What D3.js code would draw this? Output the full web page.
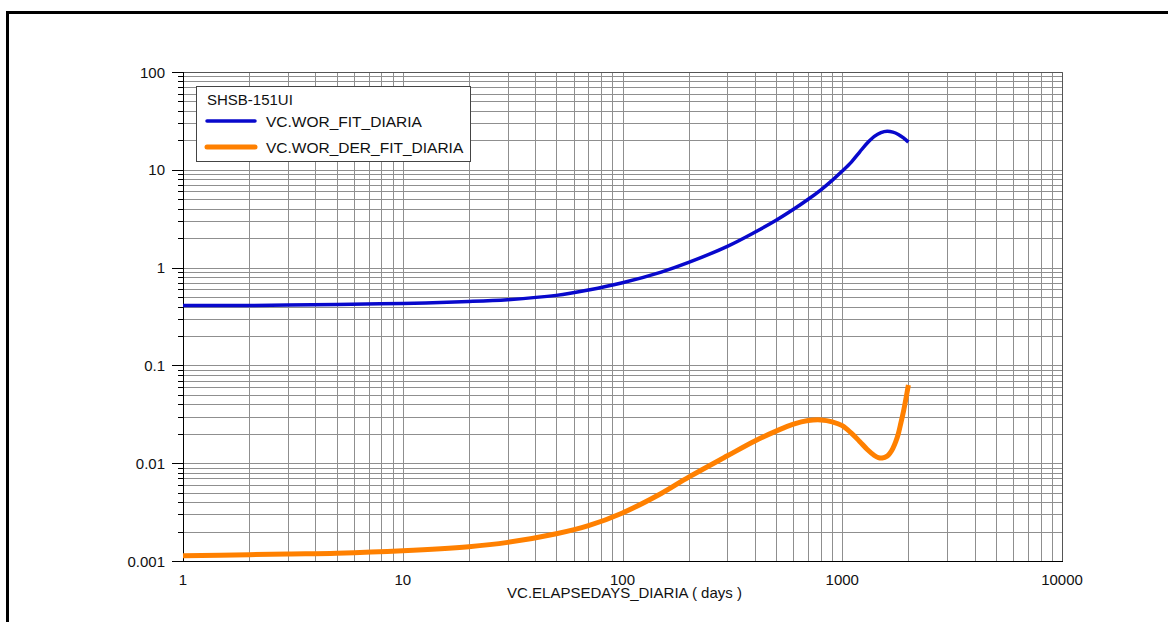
<html>
<head>
  <title>WOR fit</title>
  <script src='https://d3js.org/d3.v7.min.js'></script>
  <style>
    body { margin: 0; background: #fff; }
    text { font-family: 'Liberation Sans', Arial, sans-serif; fill: #111; }
  </style>
</head>
<body>
  <script>

    // series
    var worDays = [1, 2, 3, 5, 10, 20, 30, 50, 70, 100, 150, 200, 300, 400, 500, 600, 700, 800, 900, 1000, 1100, 1200, 1300, 1400, 1500, 1600, 1700, 1800, 1900, 2000];
    var worFit  = [0.41, 0.41, 0.415, 0.42, 0.43, 0.45, 0.47, 0.52, 0.59, 0.70, 0.90, 1.13, 1.65, 2.3, 3.05, 3.95, 5.0, 6.25, 7.8, 9.7, 12.0, 15.2, 18.8, 22.0, 24.0, 24.8, 24.3, 23.0, 21.2, 19.2];

    var derDays   = [1, 2, 3, 5, 10, 20, 30, 50, 70, 100, 150, 200, 300, 400, 500, 600, 700, 800, 900, 1000, 1100, 1200, 1300, 1400, 1460, 1520, 1600, 1650, 1700, 1750, 1800, 1850, 1900, 1950, 2000];
    var worDerFit = [0.00113, 0.00116, 0.00118, 0.0012, 0.00127, 0.0014, 0.00155, 0.0019, 0.0023, 0.0031, 0.0049, 0.0072, 0.0119, 0.0169, 0.0213, 0.0251, 0.0273, 0.0277, 0.0265, 0.0242, 0.0203, 0.0167, 0.0138, 0.0120, 0.0114, 0.0113, 0.0118, 0.0127, 0.0142, 0.0165, 0.020, 0.026, 0.034, 0.046, 0.063];

    var seriesNames = ['VC.WOR_FIT_DIARIA', 'VC.WOR_DER_FIT_DIARIA'];
    var seriesColors = ['#0808cc', '#ff8000'];
    var wellName = 'SHSB-151UI';

    var xTicks = [1, 10, 100, 1000, 10000];
    var yTicks = [0.001, 0.01, 0.1, 1, 10, 100];
    var xTitle = 'VC.ELAPSEDAYS_DIARIA ( days )';

    var width = 1168,
        height = 622;

    var pLeft = 183, pRight = 1062, pTop = 72, pBottom = 561;

    var svg = d3.select('body')
      .append('svg')
      .attr('width', width)
      .attr('height', height);

    // outer frame
    svg.append('rect')
      .attr('x', 7.5).attr('y', 12.5)
      .attr('width', 1200).attr('height', 700)
      .attr('fill', 'none')
      .attr('stroke', '#000')
      .attr('stroke-width', 3);

    var x = d3.scaleLog().domain([1, 10000]).range([pLeft, pRight]);
    var y = d3.scaleLog().domain([0.001, 100]).range([pBottom, pTop]);

    // every 1..9 step of each decade
    function minorSteps(lo, hi) {
      var out = [];
      for (var p = Math.round(Math.log10(lo)); p < Math.round(Math.log10(hi)); p++) {
        for (var k = 1; k < 10; k++) out.push(+(k * Math.pow(10, p)).toPrecision(6));
      }
      out.push(hi);
      return out;
    }
    var xGrid = minorSteps(1, 10000);
    var yGrid = minorSteps(0.001, 100);

    var grid = svg.append('g').attr('stroke', '#8f8f8f').attr('stroke-width', 1);

    grid.selectAll('line.v')
      .data(xGrid)
      .enter()
      .append('line')
      .attr('x1', (d) => Math.round(x(d)) + 0.5)
      .attr('x2', (d) => Math.round(x(d)) + 0.5)
      .attr('y1', pTop)
      .attr('y2', pBottom);

    grid.selectAll('line.h')
      .data(yGrid)
      .enter()
      .append('line')
      .attr('x1', pLeft)
      .attr('x2', pRight)
      .attr('y1', (d) => Math.round(y(d)) + 0.5)
      .attr('y2', (d) => Math.round(y(d)) + 0.5);

    // top and right edges
    svg.append('path')
      .attr('d', 'M' + pLeft + ',' + (pTop + 0.5) + 'H' + (pRight + 0.5) + 'V' + pBottom)
      .attr('fill', 'none')
      .attr('stroke', '#555');

    // y axis ticks, major longer
    var yAxis = svg.append('g').attr('stroke', '#000');
    yAxis.selectAll('line')
      .data(yGrid)
      .enter()
      .append('line')
      .attr('x1', (d) => yTicks.indexOf(d) >= 0 ? pLeft - 11 : pLeft - 5)
      .attr('x2', pLeft)
      .attr('y1', (d) => Math.round(y(d)) + 0.5)
      .attr('y2', (d) => Math.round(y(d)) + 0.5);

    svg.append('line')
      .attr('x1', pLeft + 0.5).attr('x2', pLeft + 0.5)
      .attr('y1', pTop).attr('y2', pBottom)
      .attr('stroke', '#000');
    svg.append('line')
      .attr('x1', pLeft - 11).attr('x2', pRight + 1)
      .attr('y1', pBottom + 0.5).attr('y2', pBottom + 0.5)
      .attr('stroke', '#000');

    svg.selectAll('text.ylab')
      .data(yTicks)
      .enter()
      .append('text')
      .attr('x', pLeft - 18)
      .attr('y', (d) => y(d) + 5.5)
      .attr('text-anchor', 'end')
      .style('font-size', '15px')
      .text((d) => d3.format('~g')(d));

    svg.selectAll('text.xlab')
      .data(xTicks)
      .enter()
      .append('text')
      .attr('x', (d) => x(d))
      .attr('y', pBottom + 24)
      .attr('text-anchor', 'middle')
      .style('font-size', '15px')
      .text((d) => String(d));

    svg.append('text')
      .attr('x', (pLeft + pRight) / 2 + 2)
      .attr('y', pBottom + 36.5)
      .attr('text-anchor', 'middle')
      .style('font-size', '15px')
      .text(xTitle);

    // curves
    var line = d3.line()
      .x((d) => x(d[0]))
      .y((d) => y(d[1]))
      .curve(d3.curveCatmullRom.alpha(0.5));

    var plot = svg.append('g');
    plot.append('path')
      .datum(d3.zip(derDays, worDerFit))
      .attr('fill', 'none')
      .attr('stroke', seriesColors[1])
      .attr('stroke-width', 5)
      .attr('d', line);
    plot.append('path')
      .datum(d3.zip(worDays, worFit))
      .attr('fill', 'none')
      .attr('stroke', seriesColors[0])
      .attr('stroke-width', 3.5)
      .attr('d', line);

    // legend
    var legend = svg.append('g').attr('transform', 'translate(196,86)');
    legend.append('rect')
      .attr('x', 0.5).attr('y', 0.5)
      .attr('width', 274).attr('height', 75)
      .attr('fill', '#fff')
      .attr('stroke', '#444');
    legend.append('text')
      .attr('x', 11).attr('y', 19)
      .style('font-size', '15px')
      .text(wellName);
    var items = legend.selectAll('g.item')
      .data(seriesNames)
      .enter()
      .append('g')
      .attr('transform', (d, i) => 'translate(0,' + (35 + i * 26) + ')');
    items.append('line')
      .attr('x1', 11).attr('x2', 59)
      .attr('stroke', (d, i) => seriesColors[i])
      .attr('stroke-width', (d, i) => i ? 5 : 3.5)
      .attr('stroke-linecap', 'round');
    items.append('text')
      .attr('x', 70).attr('y', 6)
      .style('font-size', '15.5px')
      .text((d) => d);

  </script>
</body>
</html>
